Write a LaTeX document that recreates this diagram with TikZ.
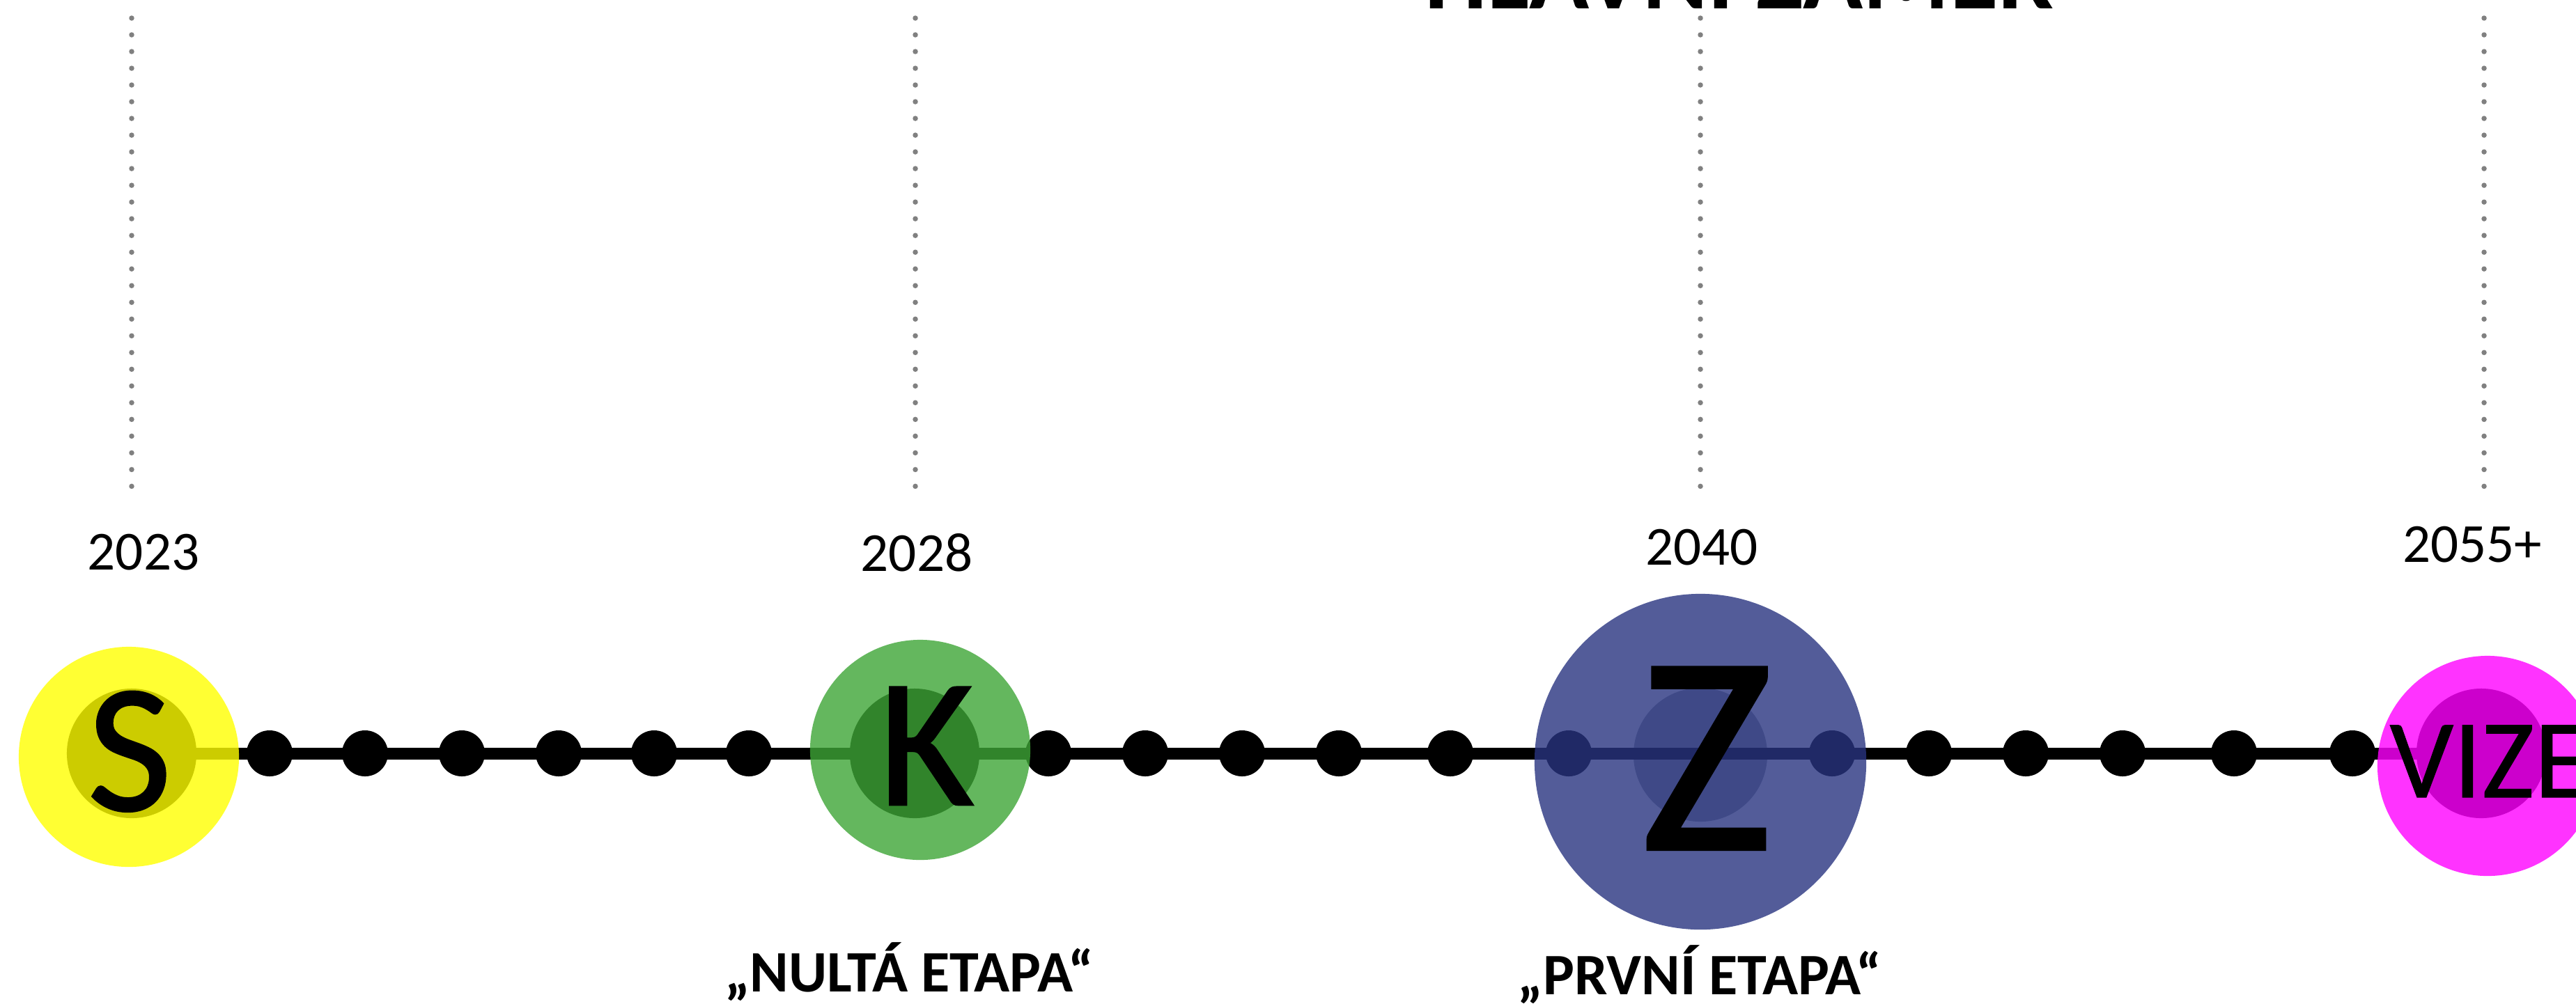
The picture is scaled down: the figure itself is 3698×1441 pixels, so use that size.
\documentclass[tikz,border=0pt]{standalone}
\usepackage{fontspec}
\setmainfont{Carlito}
\newfontfamily\fbfont[FakeBold=1.0]{Carlito}
\newfontfamily\fbvfont[FakeBold=0.7]{Carlito}
\usetikzlibrary{shapes.geometric}
\definecolor{dotgray}{RGB}{128,128,128}
\definecolor{cyel}{RGB}{255,255,0}
\definecolor{cgreen}{RGB}{62,166,54}
\definecolor{cblue}{RGB}{40,52,128}
\definecolor{cmag}{RGB}{255,0,255}
\definecolor{cgrayin}{RGB}{155,160,165}
\begin{document}
\begin{tikzpicture}[x=0.01cm,y=-0.01cm,
  vline/.style={draw=dotgray, line width=0.075cm, line cap=round, dash pattern=on 0pt off 0.24cm},
  tl/.style={line width=0.17cm},
  dotn/.style={circle, fill=black, minimum size=0.66cm, inner sep=0},
  core/.style={circle, fill=black, minimum size=1.86cm, inner sep=0},
  halo/.style={circle, fill opacity=0.8, minimum size=3.16cm, inner sep=0},
  bigl/.style={inner sep=0, anchor=base},
  year/.style={inner sep=0, anchor=base, font=\fontsize{22.5}{27}\selectfont},
  etapa/.style={inner sep=0, anchor=base, font=\bfseries\fontsize{24}{29}\selectfont}]
\useasboundingbox (0,0) rectangle (3698,1441);
\fill[white] (0,0) rectangle (3698,1441);

% title (cut off at top)
\node[anchor=base west, inner sep=0, font=\bfseries\fontsize{40.4}{48}\selectfont] (title) at (2045,12) {HLAVNÍ ZÁMĚR};

% dotted verticals
\foreach \i/\x in {1/189,2/1314,3/2441,4/3566}{
  \coordinate (vt\i) at (\x,26);
  \coordinate (vb\i) at (\x,708);
  \draw[vline] (vt\i) -- (vb\i);
}

% years
\node[year] (y1) at (206,818) {2023};
\node[year] (y2) at (1316,820) {2028};
\node[year] (y3) at (2443,811) {2040};
\node[year] (y4) at (3549,807) {2055+};

% cores
\node[core] (Sin) at (189,1082) {};
\node[core] (Kin) at (1313,1082) {};
\node[circle, fill=cgrayin, minimum size=1.92cm, inner sep=0] (Zin) at (2441,1084) {};
\node[core] (Vin) at (3562,1082) {};

% main line
\draw[tl] (Sin.center) -- (Vin.center);

% dots
\foreach \i/\x in {1/387,2/524,3/663,4/802,5/939,6/1075,7/1505,8/1644,9/1783,10/1922,11/2082,12/2252,13/2630,14/2769,15/2908,16/3047,17/3207,18/3377}{
  \node[dotn] (d\i) at (\x,1082) {};
}

% halos
\node[halo, fill=cyel] (S) at (185,1087) {};
\node[halo, fill=cgreen] (K) at (1321,1077) {};
\node[ellipse, fill=cblue, fill opacity=0.8, minimum width=4.76cm, minimum height=4.82cm, inner sep=0] (Z) at (2441,1094) {};
\node[halo, fill=cmag] (V) at (3571,1100) {};

% letters
\node[bigl, font=\fbfont\fontsize{75}{80}\selectfont] (Sl) at (186,1164) {S};
\node[bigl, font=\fbfont\fontsize{75}{80}\selectfont] (Kl) at (1330,1156) {K};
\node[bigl, font=\fbfont\fontsize{116}{120}\selectfont] (Zl) at (2450,1220) {Z};
\node[inner sep=0, anchor=base west, font=\fbvfont\fontsize{45.8}{50}\selectfont] (Vl) at (3430,1145) {VIZE};

% stage labels
\node[etapa] (e1) at (1305,1424) {„NULTÁ ETAPA“};
\node[etapa] (e2) at (2440,1428) {„PRVNÍ ETAPA“};
\end{tikzpicture}
\end{document}
